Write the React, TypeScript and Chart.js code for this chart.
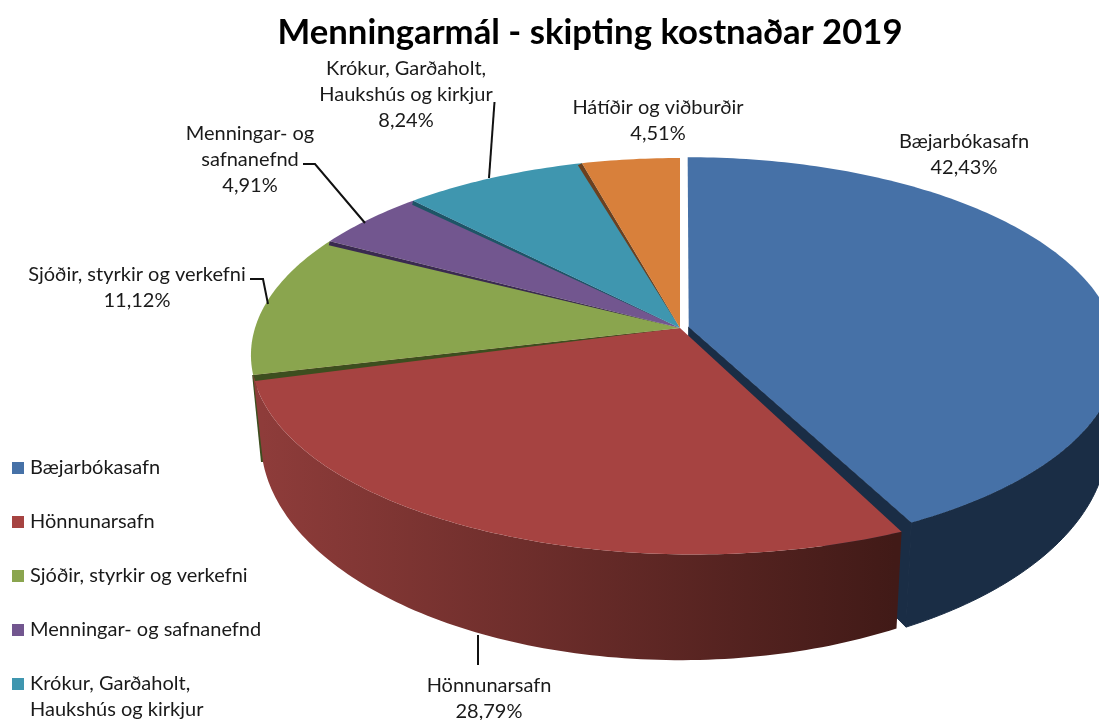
import React, { useEffect, useRef } from "react";
import { Chart, registerables } from "chart.js";

Chart.register(...registerables);

const titleText = "Menningarmál - skipting kostnaðar 2019";
const categories: (string | string[])[] = [
  "Bæjarbókasafn",
  "Hönnunarsafn",
  "Sjóðir, styrkir og verkefni",
  "Menningar- og safnanefnd",
  ["Krókur, Garðaholt,", "Haukshús og kirkjur"],
  "Hátíðir og viðburðir",
];
const shares = [42.43, 28.79, 11.12, 4.91, 8.24, 4.51];
const colours = ["#4671A7", "#A64341", "#8AA54E", "#72568F", "#3F96AF", "#D8803B"];
const edgeColours = ["#1A2D45", "#411A17", "#3D4E1F", "#3A2A50", "#1E5566", "#6B4020"];
const sliceOffsets = [7, 0, 0, 0, 0, 0];
const labelLines = [
  ["Bæjarbókasafn"],
  ["Hönnunarsafn"],
  ["Sjóðir, styrkir og verkefni"],
  ["Menningar- og", "safnanefnd"],
  ["Krókur, Garðaholt,", "Haukshús og kirkjur"],
  ["Hátíðir og viðburðir"],
];
// label centre x and first-line y
const labelAnchors = [
  [964, 142],
  [489, 686],
  [137, 275],
  [250, 134],
  [406, 69],
  [658, 108],
];
const leaderLines = [
  [[478, 635], [478, 665]],
  [[250, 279], [263, 279], [268, 304]],
  [[303, 164], [315, 164], [365, 223]],
  [[494.5, 102], [489, 178]],
];
// Edge shadow shift (px) per slice, on its start-angle side
const edgeShift = [null, null, [2, 6], [-1, 4], [-1, 4], [-4, 2]];

const FONT = "Lato, Carlito, sans-serif";
const CX = 680, CY = 328, A = 425, B = 193.3, K = 0.137;
const BOTTOM_S = 0.977, BOTTOM_YA = 1.119, BOTTOM_YB = 42.5;

type Pt = [number, number];
const project = (x: number, y: number): Pt => {
  const w = 1 - K * y;
  return [CX + (A * x) / w, CY + (B * y) / w];
};
const lower = (p: Pt): Pt => [CX + (p[0] - CX) * BOTTOM_S, p[1] * BOTTOM_YA + BOTTOM_YB];

const clockDeg = (a: number) => ((((a * 180) / Math.PI + 90) % 360) + 360) % 360;

// Perspective correction: the back-left rim is drawn slightly rotated
const warpAngle = (a: number) => {
  const t = clockDeg(a);
  if (t <= 256.3) return a;
  return a + (2.3 * Math.PI / 180) * Math.sin((Math.PI * (t - 256.3)) / 103.7);
};

const rim = (angle: number, ox: number, oy: number): Pt => {
  const w = warpAngle(angle);
  return project(Math.cos(w) + ox, Math.sin(w) + oy);
};

// Top-surface rim; the front slice sags a little towards its right end
const topRim = (i: number, angle: number, ox: number, oy: number): Pt => {
  const p = rim(angle, ox, oy);
  if (i !== 1) return p;
  const t = clockDeg(angle);
  const u = Math.max(0, Math.min(1, (256.3 - t) / 103.6));
  return [p[0], p[1] + 8 * u ** 4];
};

const sampleAngles = (start: number, end: number): number[] => {
  const n = Math.max(2, Math.ceil(((end - start) * 180) / Math.PI));
  const out: number[] = [];
  for (let i = 0; i <= n; i++) out.push(start + ((end - start) * i) / n);
  return out;
};

const fillPoly = (ctx: CanvasRenderingContext2D, pts: Pt[], fill: string | CanvasGradient, seal = false) => {
  ctx.beginPath();
  pts.forEach((p, i) => (i ? ctx.lineTo(p[0], p[1]) : ctx.moveTo(p[0], p[1])));
  ctx.closePath();
  ctx.fillStyle = fill;
  ctx.fill();
  if (seal) {
    ctx.strokeStyle = fill;
    ctx.lineWidth = 1;
    ctx.stroke();
  }
};

const pie3d = {
  id: "pie3d",
  afterLayout(chart: any) {
    const t = chart.titleBlock;
    t.left = 0; t.right = 1180; t.top = 8; t.bottom = 51;
    const l = chart.legend;
    l.left = -18; l.right = 300; l.top = 424; l.bottom = 1000;
  },
  beforeDatasetsDraw(chart: any) {
    const ctx: CanvasRenderingContext2D = chart.ctx;
    const arcs = chart.getDatasetMeta(0).data;
    const geo = arcs.map((arc: any, i: number) => {
      const props = arc.getProps(["startAngle", "endAngle", "outerRadius"], true);
      const mid = (props.startAngle + props.endAngle) / 2;
      const off = (sliceOffsets[i] || 0) / props.outerRadius;
      return { start: props.startAngle, end: props.endAngle, ox: Math.cos(mid) * off, oy: Math.sin(mid) * off };
    });
    ctx.save();
    // Exploded slice wall, inner and outer (only the part facing the viewer)
    const g0 = geo[0];
    const topRim0 = sampleAngles(Math.max(g0.start, 0), g0.end).map((a) => rim(a, g0.ox, g0.oy));
    fillPoly(ctx, [...topRim0, ...topRim0.map(lower).reverse()], edgeColours[0], true);
    const apex0 = project(g0.ox, g0.oy);
    const corner0 = topRim0[topRim0.length - 1];
    fillPoly(ctx, [apex0, corner0, lower(corner0), lower(apex0)], edgeColours[0], true);

    // Thin wall of the slice behind the second one
    const gEdge = rim(geo[2].start, 0, 0);
    const gEdgeLow = lower(gEdge);
    fillPoly(ctx, [[gEdge[0] - 1, gEdge[1]], [gEdge[0] + 3, gEdge[1]], [gEdgeLow[0] + 1, gEdgeLow[1]], [gEdgeLow[0] - 2, gEdgeLow[1]]], edgeColours[2]);

    // Front wall with gradient
    const g1 = geo[1];
    const angles1 = sampleAngles(g1.start, g1.end);
    const grad = ctx.createLinearGradient(262, 0, 895, 0);
    grad.addColorStop(0, "#8E3C3A");
    grad.addColorStop(1, edgeColours[1]);
    fillPoly(ctx, [
      ...angles1.map((a) => topRim(1, a, g1.ox, g1.oy)),
      ...angles1.map((a) => lower(rim(a, g1.ox, g1.oy))).reverse(),
    ], grad);

    // Top surfaces
    geo.forEach((g: any, i: number) => {
      const apex = project(g.ox, g.oy);
      const shift = edgeShift[i];
      if (shift) {
        const r = rim(g.start, g.ox, g.oy);
        fillPoly(ctx, [apex, r, [r[0] + shift[0], r[1] + shift[1]]], edgeColours[i]);
      }
      const pts = sampleAngles(g.start, g.end).map((a) => topRim(i, a, g.ox, g.oy));
      fillPoly(ctx, [apex, ...pts], colours[i]);
    });
    ctx.restore();
    return false;
  },
  afterDraw(chart: any) {
    const ctx: CanvasRenderingContext2D = chart.ctx;
    ctx.save();
    ctx.strokeStyle = "#111111";
    ctx.lineWidth = 2;
    leaderLines.forEach((line) => {
      ctx.beginPath();
      line.forEach((p, i) => (i ? ctx.lineTo(p[0], p[1]) : ctx.moveTo(p[0], p[1])));
      ctx.stroke();
    });
    ctx.fillStyle = "#1a1a1a";
    ctx.font = `20px ${FONT}`;
    ctx.textAlign = "center";
    ctx.textBaseline = "middle";
    labelLines.forEach((lines, i) => {
      const [x, y] = labelAnchors[i];
      const all = [...lines, shares[i].toFixed(2).replace(".", ",") + "%"];
      all.forEach((t, j) => ctx.fillText(t, x, y + j * 26));
    });
    ctx.restore();
  },
};

export default function App() {
  const ref = useRef<HTMLCanvasElement>(null);
  useEffect(() => {
    document.body.style.margin = "0";
    const chart = new Chart(ref.current!, {
      type: "pie",
      data: {
        labels: categories as any,
        datasets: [{ data: shares, backgroundColor: colours, borderWidth: 0, offset: sliceOffsets }],
      },
      options: {
        responsive: false,
        animation: false,
        events: [],
        plugins: {
          tooltip: { enabled: false },
          title: {
            display: true,
            text: titleText,
            color: "#000000",
            font: { family: FONT, size: 34.7, weight: "bold", lineHeight: 1.2 },
            padding: 4,
          },
          legend: {
            position: "left",
            align: "start",
            labels: {
              boxWidth: 4,
              boxHeight: 4,
              padding: 34,
              color: "#1a1a1a",
              font: { family: FONT, size: 20, lineHeight: 1.3 },
              filter: (item: any) => item.index !== 5,
              generateLabels: (c: any) =>
                (Chart as any).overrides.pie.plugins.legend.labels
                  .generateLabels(c)
                  .map((it: any) => ({ ...it, strokeStyle: it.fillStyle, lineWidth: 8 })),
            },
          },
        },
      } as any,
      plugins: [pie3d as any],
    });
    return () => chart.destroy();
  }, []);
  return (
    <div style={{ width: 1099, height: 720, overflow: "hidden", background: "#fff" }}>
      <canvas ref={ref} width={1099} height={720} style={{ display: "block" }} />
    </div>
  );
}
